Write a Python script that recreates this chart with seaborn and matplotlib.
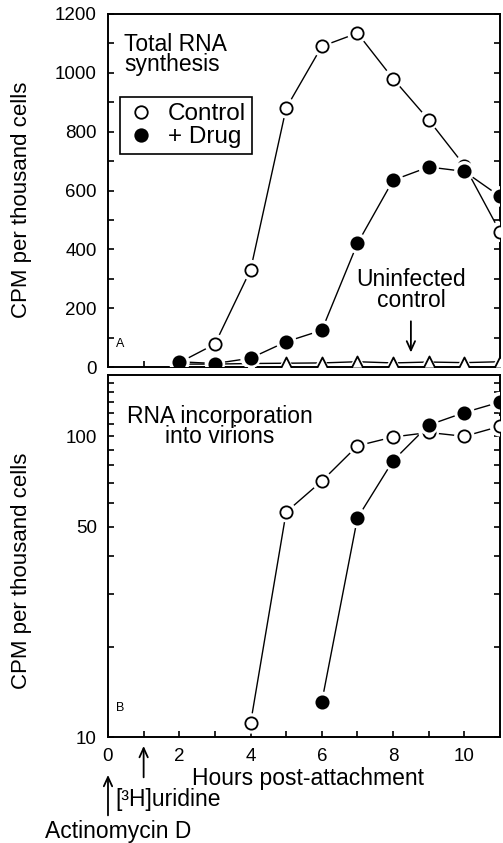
import matplotlib
matplotlib.use('Agg')
import matplotlib.pyplot as plt
import seaborn as sns
from matplotlib.lines import Line2D
from matplotlib.ticker import FixedLocator, FixedFormatter, NullFormatter

# panel A: total RNA synthesis (CPM per thousand cells)
hours = [2, 3, 4, 5, 6, 7, 8, 9, 10, 11]
total_control = [15, 78, 330, 880, 1090, 1135, 980, 840, 685, 460]
total_drug = [18, 12, 30, 86, 125, 420, 635, 680, 665, 580]
total_uninfected = [10, 10, 12, 13, 14, 18, 14, 17, 15, 18]

# panel B: RNA incorporation into virions (log scale)
virion_hours_control = [4, 5, 6, 7, 8, 9, 10, 11]
virion_control = [11.1, 56, 71, 93, 99.5, 103, 100, 108]
virion_hours_drug = [6, 7, 8, 9, 10, 11]
virion_drug = [13.1, 53.5, 83, 109, 120, 130]

top_yticks = [0, 200, 400, 600, 800, 1000, 1200]
bottom_yticks = [10, 50, 100]
bottom_xticks = [0, 2, 4, 6, 8, 10]

sns.set_theme(style='ticks')
plt.rcParams['font.family'] = ['Liberation Sans', 'DejaVu Sans']
plt.rcParams['axes.linewidth'] = 1.4
plt.rcParams['xtick.direction'] = 'in'
plt.rcParams['ytick.direction'] = 'in'
for key in ('text.color', 'axes.labelcolor', 'xtick.color', 'ytick.color', 'axes.edgecolor'):
    plt.rcParams[key] = 'black'

fig = plt.figure(figsize=(5.03, 8.43), dpi=100)
ax1 = fig.add_axes([0.2147, 0.5646, 0.7793, 0.4188])
ax2 = fig.add_axes([0.2147, 0.1257, 0.7793, 0.4295])

MS = 78  # marker area (pt^2)
ARROW = dict(arrowstyle='->,head_length=0.55,head_width=0.25', color='black', lw=1.3)


def draw_series(ax, x, y, fill, marker='o', size=MS, z=3):
    # line, then a white halo so the line stops short of each marker
    sns.lineplot(x=x, y=y, ax=ax, color='black', lw=1.0, zorder=1)
    sns.scatterplot(x=x, y=y, ax=ax, marker=marker, s=size * 2.8, color='white',
                    edgecolor='none', zorder=z - 1)
    sns.scatterplot(x=x, y=y, ax=ax, marker=marker, s=size, color=fill,
                    edgecolor='black', linewidth=1.3, zorder=z)


# ---- panel A
draw_series(ax1, hours, total_uninfected, 'white', marker='^', size=75, z=3)
draw_series(ax1, hours, total_control, 'white', z=5)
draw_series(ax1, hours, total_drug, 'black', z=7)

ax1.set_xlim(0, 11)
ax1.set_ylim(0, 1200)
ax1.yaxis.set_major_locator(FixedLocator(top_yticks))
ax1.yaxis.set_minor_locator(FixedLocator(range(100, 1200, 200)))
ax1.xaxis.set_major_locator(FixedLocator(range(0, 12)))
ax1.xaxis.set_major_formatter(NullFormatter())
ax1.tick_params(axis='y', which='both', left=True, right=True, labelsize=13.5,
                length=4, width=1.2, pad=8)
ax1.tick_params(axis='x', which='both', bottom=True, top=False, length=4, width=1.2)
ax1.set_ylabel('CPM per thousand cells', fontsize=16)
ax1.yaxis.set_label_coords(-0.194, 0.473)
ax1.set_xlabel('')

ax1.text(0.041, 0.946, 'Total RNA\nsynthesis', transform=ax1.transAxes,
         fontsize=16.5, ha='left', va='top', linespacing=0.85)
ax1.text(0.35, 80, 'A', fontsize=9, ha='center', va='center')
ax1.text(8.5, 262, 'Uninfected\ncontrol', fontsize=16.5, ha='center', va='center',
         linespacing=0.85)
ax1.annotate('', xy=(8.5, 40), xytext=(8.5, 165), arrowprops=ARROW)

handles = [
    Line2D([], [], marker='o', ls='', ms=9, mfc='white', mec='black', mew=1.3),
    Line2D([], [], marker='o', ls='', ms=9, mfc='black', mec='black', mew=1.3),
]
leg = ax1.legend(handles, ['Control', '+ Drug'], loc='upper left',
                 bbox_to_anchor=(0.031, 0.765), fontsize=17.5, frameon=True,
                 fancybox=False, framealpha=1, edgecolor='black',
                 handletextpad=0.5, handlelength=1.2, borderpad=0.25,
                 labelspacing=0.05, borderaxespad=0)
leg.get_frame().set_linewidth(1.2)

# ---- panel B
draw_series(ax2, virion_hours_control, virion_control, 'white', z=5)
draw_series(ax2, virion_hours_drug, virion_drug, 'black', z=7)

ax2.set_yscale('log')
ax2.set_xlim(0, 11)
ax2.set_ylim(10, 160)
ax2.yaxis.set_major_locator(FixedLocator(bottom_yticks))
ax2.yaxis.set_major_formatter(FixedFormatter([str(v) for v in bottom_yticks]))
ax2.yaxis.set_minor_locator(FixedLocator([20, 30, 40, 60, 70, 80, 90, 110, 120, 130, 140, 150]))
ax2.yaxis.set_minor_formatter(NullFormatter())
ax2.xaxis.set_major_locator(FixedLocator(bottom_xticks))
ax2.xaxis.set_minor_locator(FixedLocator(range(1, 12, 2)))
ax2.tick_params(axis='y', which='both', left=True, right=True, labelsize=13.5,
                length=4, width=1.2, pad=8)
ax2.tick_params(axis='x', which='both', bottom=True, top=False, labelsize=13.5,
                length=4, width=1.2, pad=8)
ax2.set_ylabel('CPM per thousand cells', fontsize=16)
ax2.yaxis.set_label_coords(-0.194, 0.459)
ax2.set_xlabel('Hours post-attachment', fontsize=16.5)
ax2.xaxis.set_label_coords(0.51, -0.084)

ax2.text(0.286, 0.917, 'RNA incorporation\ninto virions', transform=ax2.transAxes,
         fontsize=16.5, ha='center', va='top', linespacing=0.85)
ax2.text(0.35, 12.5, 'B', fontsize=9, ha='center', va='center')

trans = ax2.get_xaxis_transform()
ax2.annotate('', xy=(0, -0.097), xytext=(0, -0.224), xycoords=trans, textcoords=trans,
             arrowprops=ARROW, annotation_clip=False)
ax2.annotate('', xy=(1, -0.017), xytext=(1, -0.119), xycoords=trans, textcoords=trans,
             arrowprops=ARROW, annotation_clip=False)
ax2.text(0.2, -0.173, '[³H]uridine', transform=trans, fontsize=16.5,
         ha='left', va='center')
ax2.text(0.29, -0.262, 'Actinomycin D', transform=trans, fontsize=16.5,
         ha='center', va='center')

for ax in (ax1, ax2):
    for side in ('top', 'right', 'bottom', 'left'):
        ax.spines[side].set_visible(True)
        ax.spines[side].set_color('black')
    ax.set_facecolor('white')

fig.savefig('out.png', dpi=100)
